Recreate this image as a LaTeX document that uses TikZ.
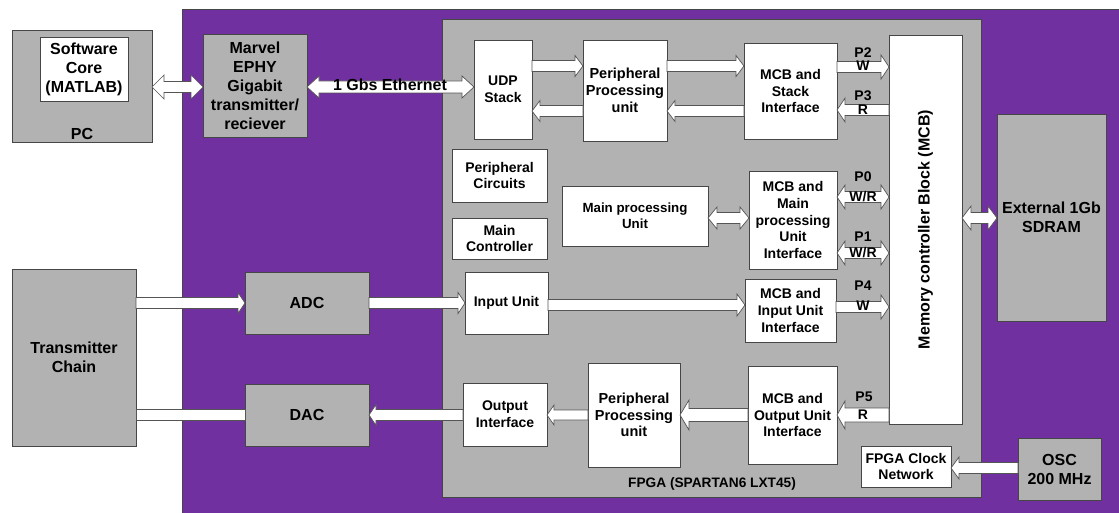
\documentclass[tikz,border=0pt]{standalone}
\usepackage{fontspec}
\setmainfont{Liberation Sans}
\usetikzlibrary{calc}
\definecolor{purp}{RGB}{112,48,160}
\definecolor{grayf}{RGB}{178,178,178}
\definecolor{edge}{RGB}{70,70,70}
\definecolor{aedge}{RGB}{85,85,85}
\tikzset{
  blk/.style={draw=edge, line width=0.8pt, inner sep=0pt, outer sep=0pt, align=center, font=\fontsize{14}{16.7}\selectfont\bfseries},
  wbox/.style={blk, fill=white},
  gbox/.style={blk, fill=grayf},
  bigtxt/.style={font=\fontsize{16}{19}\selectfont\bfseries},
  lbl/.style={inner sep=0pt, font=\fontsize{14}{16}\selectfont\bfseries},
  fat/.style={draw=aedge, fill=white, line width=0.7pt, line join=miter},
}
\newcommand\fatone[5]{%
  \draw[fat] let \p1=(#1), \p2=(#2), \n1={sign(\x2-\x1)} in
    (\x1,\y1+#3) -- (\x2-\n1*#5,\y1+#3) -- (\x2-\n1*#5,\y1+#4) -- (\x2,\y1)
    -- (\x2-\n1*#5,\y1-#4) -- (\x2-\n1*#5,\y1-#3) -- (\x1,\y1-#3) -- cycle;}
\newcommand\fattwo[5]{%
  \draw[fat] let \p1=(#1), \p2=(#2), \n1={sign(\x2-\x1)} in
    (\x1,\y1) -- (\x1+\n1*#5,\y1+#4) -- (\x1+\n1*#5,\y1+#3) -- (\x2-\n1*#5,\y1+#3)
    -- (\x2-\n1*#5,\y1+#4) -- (\x2,\y1) -- (\x2-\n1*#5,\y1-#4) -- (\x2-\n1*#5,\y1-#3)
    -- (\x1+\n1*#5,\y1-#3) -- (\x1+\n1*#5,\y1-#4) -- cycle;}
\newcommand\fatbar[3]{%
  \draw[fat] let \p1=(#1), \p2=(#2) in (\x1,\y1+#3) rectangle (\x2,\y1-#3);}
\begin{document}
\begin{tikzpicture}[x=1pt,y=-1pt]
\useasboundingbox (0,0) rectangle (1119,513);
\fill[white] (0,0) rectangle (1119,513);
% purple board
\fill[purp] (182,9) rectangle (1130,520);
\draw[edge, line width=0.8pt] (182,520) -- (182,9) -- (1130,9);

% row coordinates
\foreach \r in {66,67,87,110,111,197,218,253,303,305,307,415,468}{\coordinate (y\r) at (0,\r);}

% outside boxes
\node[gbox, minimum width=140pt, minimum height=112pt] (pc) at (82,86) {};
\node[wbox, bigtxt, minimum width=88pt, minimum height=64pt] (sw) at (84,69) {Software\\Core\\(MATLAB)};
\node[bigtxt, inner sep=0pt] (pclabel) at (82,134) {PC};
\node[gbox, bigtxt, minimum width=124pt, minimum height=177pt] (tx) at (74,357.5) {Transmitter\\Chain};

% board boxes
\node[gbox, bigtxt, minimum width=104pt, minimum height=103pt] (marvel) at (255,85.5) {Marvel\\EPHY\\Gigabit\\transmitter/\\reciever};
\node[gbox, bigtxt, minimum width=124pt, minimum height=62pt] (adc) at (307,303) {ADC};
\node[gbox, bigtxt, minimum width=124pt, minimum height=62pt] (dac) at (307,415) {DAC};
\node[gbox, bigtxt, minimum width=109pt, minimum height=207pt] (sdram) at (1051.5,217.5) {External 1Gb\\SDRAM};
\node[gbox, bigtxt, minimum width=83pt, minimum height=62pt] (osc) at (1059.5,469) {OSC\\200 MHz};

% FPGA
\node[gbox, minimum width=539pt, minimum height=478pt] (fpga) at (711.5,258) {};
\node[inner sep=0pt, font=\fontsize{13.7}{16}\selectfont\bfseries] (fpgalabel) at (712,484) {FPGA (SPARTAN6 LXT45)};

\node[wbox, minimum width=58pt, minimum height=99pt] (udp) at (503,89.5) {UDP\\Stack};
\node[wbox, font=\fontsize{14.5}{16.7}\selectfont\bfseries, minimum width=84pt, minimum height=101pt] (ppua) at (625,90.5) {Peripheral\\Processing\\unit};
\node[wbox, minimum width=93pt, minimum height=96pt] (mcbs) at (790.5,91) {MCB and\\Stack\\Interface};
\node[wbox, minimum width=73pt, minimum height=389pt] (mcb) at (925.5,229.5) {};
\node[rotate=90, inner sep=0pt, bigtxt] (mcbtext) at (mcb.center) {Memory controller Block (MCB)};

\node[wbox, minimum width=95pt, minimum height=53pt] (perc) at (499.5,175.5) {Peripheral\\Circuits};
\node[wbox, minimum width=95pt, minimum height=41pt] (mctl) at (499.5,238.5) {Main\\Controller};
\node[wbox, font=\fontsize{13.3}{16}\selectfont\bfseries, minimum width=146pt, minimum height=60pt] (mpu) at (635,216) {Main processing\\Unit};
\node[wbox, minimum width=88pt, minimum height=98pt] (mcbm) at (793,220) {MCB and\\Main\\processing\\Unit\\Interface};

\node[wbox, minimum width=83pt, minimum height=62pt] (inu) at (506.5,303) {Input Unit};
\node[wbox, minimum width=91pt, minimum height=63pt] (mcbi) at (790.5,310.5) {MCB and\\Input Unit\\Interface};

\node[wbox, minimum width=84pt, minimum height=63pt] (outif) at (505,414.5) {Output\\Interface};
\node[wbox, font=\fontsize{14.5}{16.7}\selectfont\bfseries, minimum width=92pt, minimum height=104pt] (ppub) at (634,415) {Peripheral\\Processing\\unit};
\node[wbox, minimum width=89pt, minimum height=98pt] (mcbo) at (792.5,415) {MCB and\\Output Unit\\Interface};
\node[wbox, minimum width=90pt, minimum height=41pt] (clk) at (906,466.5) {FPGA Clock\\Network};

% connectors
\fattwo{pc.east |- y87}{marvel.west |- y87}{5.5pt}{12pt}{12pt}
\fattwo{marvel.east |- y87}{udp.west |- y87}{6pt}{11pt}{12pt}
\node[bigtxt, inner sep=0pt] (eth) at (390,85) {1 Gbs Ethernet};

\fatone{udp.east |- y66}{ppua.west |- y66}{5.5pt}{10.5pt}{8pt}
\fatone{ppua.west |- y111}{udp.east |- y111}{5.5pt}{10.5pt}{8pt}
\fatone{ppua.east |- y66}{mcbs.west |- y66}{5.5pt}{10.5pt}{8pt}
\fatone{mcbs.west |- y111}{ppua.east |- y111}{5.5pt}{10.5pt}{8pt}

\fatone{mcbs.east |- y67}{mcb.west |- y67}{5.5pt}{12pt}{8pt}
\node[lbl] (p2) at (863,53) {P2};
\node[lbl] (p2w) at (863,66) {W};
\fatone{mcb.west |- y110}{mcbs.east |- y110}{5.5pt}{12pt}{8pt}
\node[lbl] (p3) at (863,96) {P3};
\node[lbl] (p3r) at (863,110) {R};

\fattwo{mpu.east |- y218}{mcbm.west |- y218}{5.5pt}{11pt}{9pt}
\fattwo{mcbm.east |- y197}{mcb.west |- y197}{5.5pt}{12pt}{8pt}
\node[lbl] (p0) at (863,177) {P0};
\node[lbl] (p0wr) at (863,197) {W/R};
\fattwo{mcbm.east |- y253}{mcb.west |- y253}{5.5pt}{12pt}{8pt}
\node[lbl] (p1) at (863,237) {P1};
\node[lbl] (p1wr) at (863,253) {W/R};

\fattwo{mcb.east |- y218}{sdram.west |- y218}{5.5pt}{12pt}{9pt}

\fatone{tx.east |- y303}{adc.west |- y303}{5.5pt}{10.5pt}{7pt}
\fatone{adc.east |- y303}{inu.west |- y303}{5.5pt}{10.5pt}{7pt}
\fatone{inu.east |- y305}{mcbi.west |- y305}{5.5pt}{11pt}{8pt}
\fatone{mcbi.east |- y307}{mcb.west |- y307}{5.5pt}{12pt}{8pt}
\node[lbl] (p4) at (863,286) {P4};
\node[lbl] (p4w) at (863,306) {W};

\fatone{mcb.west |- y415}{mcbo.east |- y415}{7pt}{14pt}{8pt}
\node[lbl] (p5) at (864,397) {P5};
\node[lbl] (p5r) at (863,415) {R};
\fatone{mcbo.west |- y415}{ppub.east |- y415}{6.5pt}{15pt}{9pt}
\fatone{ppub.west |- y415}{outif.east |- y415}{5pt}{10pt}{7pt}
\fatone{outif.west |- y415}{dac.east |- y415}{5.5pt}{10.5pt}{7pt}
\fatbar{dac.west |- y415}{tx.east |- y415}{5.5pt}
\fatone{osc.west |- y468}{clk.east |- y468}{5.5pt}{11pt}{8pt}
\end{tikzpicture}
\end{document}
